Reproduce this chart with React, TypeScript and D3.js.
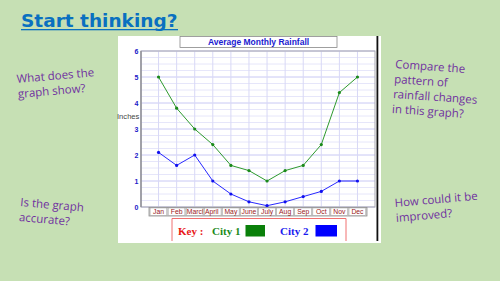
import React from "react";
import * as d3 from "d3";

const months = ["Jan", "Feb", "March", "April", "May", "June", "July", "Aug", "Sep", "Oct", "Nov", "Dec"];
const city1 = [5.0, 3.8, 3.0, 2.4, 1.6, 1.4, 1.0, 1.4, 1.6, 2.4, 4.4, 5.0];
const city2 = [2.1, 1.6, 2.0, 1.0, 0.5, 0.2, 0.05, 0.2, 0.4, 0.6, 1.0, 1.0];
const yTicks = [0, 1, 2, 3, 4, 5, 6];
const seriesNames = ["City 1", "City 2"];

const questions = [
  { lines: ["What does the", "graph show?"], x: 17, y: 83, rot: -5 },
  { lines: ["Is the graph", "accurate?"], x: 20, y: 206, rot: 5 },
  { lines: ["Compare the", "pattern of", "rainfall changes", "in this graph?"], x: 395, y: 68, rot: 4 },
  { lines: ["How could it be", "improved?"], x: 395, y: 207, rot: -5 },
];

export default function App() {
  const x = d3.scaleBand<string>().domain(months).range([149.5, 366.5]);
  const y = d3.scaleLinear().domain([0, 6]).range([207, 51]);
  const cx = (m: string) => (x(m) as number) + x.bandwidth() / 2;
  const line = d3
    .line<number>()
    .x((_, i) => cx(months[i]))
    .y((d) => y(d));
  const minor = d3.range(0, 6.001, 0.25);
  const plotL = 141, plotR = 375;
  const green = "#2e9a2e";
  const blue = "#2828ff";

  return (
    <svg width={500} height={281} style={{ position: "absolute", left: 0, top: 0 }}>
      <defs>
        {months.map((m, i) => (
          <clipPath key={"cp" + i} id={"mclip" + i}>
            <rect x={(x(m) as number) + 0.6} y={207} width={x.bandwidth() - 1.4} height={9} />
          </clipPath>
        ))}
      </defs>
      <rect x={0} y={0} width={500} height={281} fill="#c6e0b4" />
      {/* title */}
      <text x={21} y={27} fontFamily="DejaVu Sans" fontWeight="bold" fontSize={18.5} fill="#0a70c0">
        Start thinking?
      </text>
      <rect x={21} y={29} width={157} height={1.3} fill="#0a70c0" />

      {questions.map((q, qi) => (
        <text
          key={qi}
          transform={`translate(${q.x},${q.y}) rotate(${q.rot})`}
          fontFamily="Open Sans"
          fontSize={11.5}
          fill="#7030a0"
        >
          {q.lines.map((l, i) => (
            <tspan key={i} x={0} y={i * 15}>
              {l}
            </tspan>
          ))}
        </text>
      ))}

      {/* chart panel */}
      <rect x={118} y={36} width={263} height={207} fill="#ffffff" />
      <rect x={376.5} y={36} width={1.8} height={205} fill="#111" />

      {/* plot grid */}
      <rect x={plotL} y={y(6)} width={plotR - plotL} height={y(0) - y(6)} fill="#fff" />
      {minor.map((v) => (
        <line
          key={"h" + v}
          x1={plotL}
          x2={plotR}
          y1={y(v)}
          y2={y(v)}
          stroke={Number.isInteger(v) ? "#c8c8f4" : "#e6e6fa"}
          strokeWidth={1}
        />
      ))}
      {months.map((m) => (
        <line key={"v" + m} x1={cx(m)} x2={cx(m)} y1={y(6)} y2={y(0)} stroke="#d8d8f6" strokeWidth={1} />
      ))}
      <rect
        x={plotL}
        y={y(6)}
        width={plotR - plotL}
        height={y(0) - y(6)}
        fill="none"
        stroke="#a8a8b0"
        strokeWidth={1}
      />
      <line x1={plotL} x2={plotL} y1={y(6)} y2={y(0)} stroke="#909098" strokeWidth={1.5} />

      {/* y tick labels */}
      {yTicks.map((t) => (
        <text
          key={"yt" + t}
          x={138.5}
          y={y(t) + 2.5}
          textAnchor="end"
          fontFamily="Liberation Sans"
          fontWeight="bold"
          fontSize={7}
          fill="#2020c8"
        >
          {t}
        </text>
      ))}
      <text x={117} y={118.5} fontFamily="Liberation Sans" fontSize={7.6} fill="#444">
        Inches
      </text>

      {/* chart title */}
      <rect x={180} y={36.5} width={157} height={11} fill="#fff" stroke="#888" strokeWidth={0.8} />
      <text
        x={258.5}
        y={45}
        textAnchor="middle"
        fontFamily="Liberation Sans"
        fontWeight="bold"
        fontSize={8.5}
        fill="#1a1ad0"
      >
        Average Monthly Rainfall
      </text>

      {/* series */}
      <path d={line(city1) || ""} fill="none" stroke={green} strokeWidth={1} />
      <path d={line(city2) || ""} fill="none" stroke={blue} strokeWidth={1} />
      {city1.map((v, i) => (
        <circle key={"c1" + i} cx={cx(months[i])} cy={y(v)} r={1.6} fill="#1a8a1a" />
      ))}
      {city2.map((v, i) => (
        <circle key={"c2" + i} cx={cx(months[i])} cy={y(v)} r={1.6} fill="#1010f0" />
      ))}

      {/* month label boxes */}
      <rect x={149} y={207.5} width={218} height={8.5} fill="#d0d0d0" stroke="#909090" strokeWidth={0.8} />
      {months.map((m, i) => (
        <g key={"mb" + m}>
          <rect
            x={(x(m) as number) + 0.6}
            y={208}
            width={x.bandwidth() - 1.4}
            height={7.3}
            fill="#fff"
            stroke="#a0a0a0"
            strokeWidth={0.5}
          />
          <text
            x={m.length > 4 ? (x(m) as number) + 1.2 : cx(m)}
            y={214.3}
            textAnchor={m.length > 4 ? "start" : "middle"}
            fontFamily="Liberation Sans"
            fontSize={6.8}
            fill="#9a1818"
            clipPath={`url(#mclip${i})`}
          >
            {m}
          </text>
        </g>
      ))}

      {/* key */}
      <path d="M172,241 V218.5 H346 V241" fill="none" stroke="#f07070" strokeWidth={1} />
      <text x={178} y={235} fontFamily="Liberation Serif" fontWeight="bold" fontSize={11} fill="#e81818">
        Key :
      </text>
      <text x={212} y={235} fontFamily="Liberation Serif" fontWeight="bold" fontSize={11} fill="#1a8a1a">
        {seriesNames[0]}
      </text>
      <rect x={245.5} y={225} width={19.5} height={11.5} fill="#0a800a" />
      <text x={280} y={235} fontFamily="Liberation Serif" fontWeight="bold" fontSize={11} fill="#1a1af0">
        {seriesNames[1]}
      </text>
      <rect x={315.5} y={225} width={21.5} height={11.5} fill="#0000ff" />
    </svg>
  );
}
